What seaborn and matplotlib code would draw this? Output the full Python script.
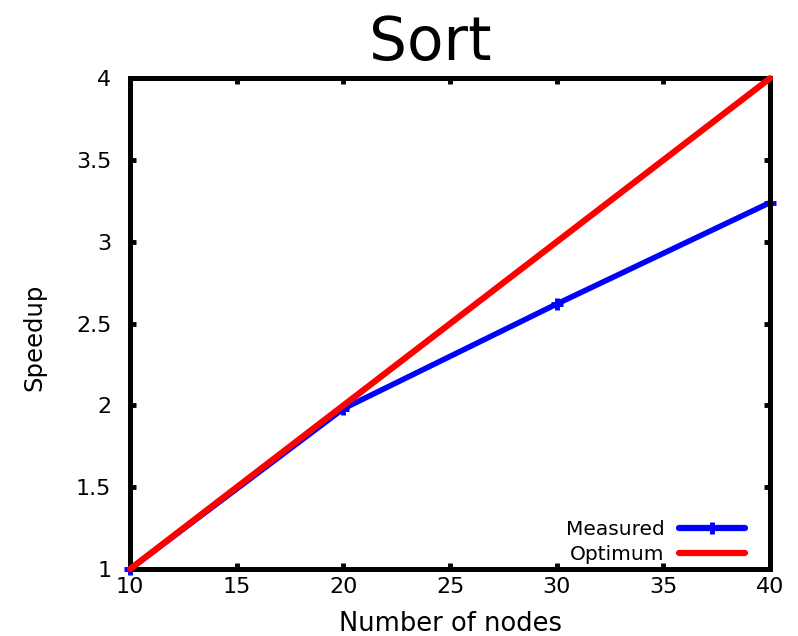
import matplotlib
matplotlib.use("Agg")
import matplotlib.pyplot as plt
import seaborn as sns
import pandas as pd

nodes = [10, 20, 30, 40]
measured = [1.0, 1.98, 2.62, 3.24]
optimum = [1.0, 2.0, 3.0, 4.0]
x_ticks = [10, 15, 20, 25, 30, 35, 40]
y_ticks = [1, 1.5, 2, 2.5, 3, 3.5, 4]
y_tick_labels = ["1", "1.5", "2", "2.5", "3", "3.5", "4"]

sns.set_style("ticks")
plt.rcParams["font.family"] = ["DejaVu Sans"]
plt.rcParams["text.color"] = "black"
plt.rcParams["axes.labelcolor"] = "black"
plt.rcParams["xtick.color"] = "black"
plt.rcParams["ytick.color"] = "black"

df = pd.DataFrame({
    "nodes": nodes * 2,
    "speedup": measured + optimum,
    "series": ["Measured"] * len(nodes) + ["Optimum"] * len(nodes),
})

fig = plt.figure(figsize=(7.98, 6.36), dpi=100)
ax = fig.add_axes([0.163, 0.1053, 0.802, 0.7717])

sns.lineplot(data=df[df.series == "Measured"], x="nodes", y="speedup",
             color="#0000ff", linewidth=4.0, marker="+", markersize=9,
             markeredgewidth=3.5, markeredgecolor="#0000ff",
             label="Measured", ax=ax, zorder=2)
sns.lineplot(data=df[df.series == "Optimum"], x="nodes", y="speedup",
             color="#ff0000", linewidth=4.5, label="Optimum", ax=ax, zorder=3)

ax.set_xlim(10, 40)
ax.set_ylim(1, 4)
ax.set_xticks(x_ticks)
ax.set_yticks(y_ticks)
ax.set_yticklabels(y_tick_labels)

for s in ax.spines.values():
    s.set_linewidth(3.6)
    s.set_color("black")
    s.set_visible(True)

ax.tick_params(direction="in", length=4, width=3.5, labelsize=16,
               top=True, right=True)
ax.tick_params(axis="x", pad=6)
ax.tick_params(axis="y", pad=13.5)

ax.set_xlabel("Number of nodes", fontsize=18.5, labelpad=10)
ax.set_ylabel("Speedup", fontsize=17.5, labelpad=21, y=0.4725)
ax.set_title("Sort", fontsize=43, pad=13, x=0.469)

leg = ax.legend(loc="lower right", frameon=False, markerfirst=False,
                prop={"family": "DejaVu Sans", "size": 14.5},
                handlelength=3.3, handletextpad=0.7,
                labelspacing=0.3, borderaxespad=0.0,
                bbox_to_anchor=(0.974, -0.007))
for line in leg.get_lines():
    line.set_linewidth(4.5)

for l in ax.lines:
    l.set_clip_on(False)

fig.savefig("out.png", dpi=100)
